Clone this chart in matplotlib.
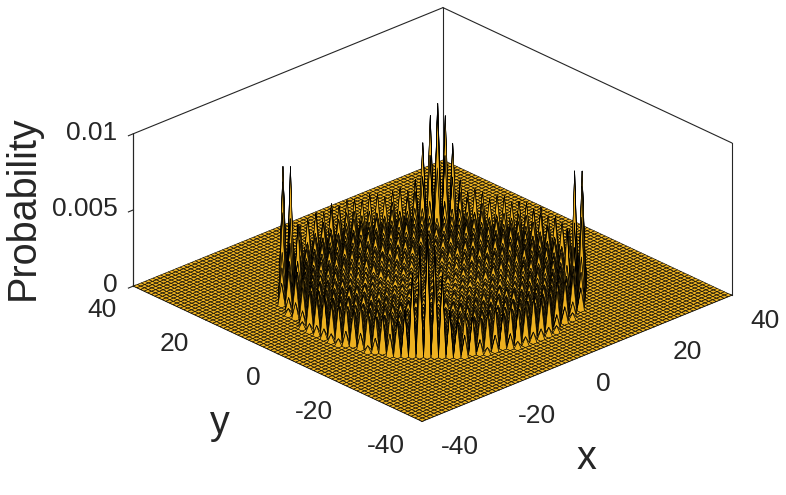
import numpy as np
import matplotlib
matplotlib.use("Agg")
import matplotlib.pyplot as plt
from matplotlib.transforms import ScaledTranslation

plt.rcParams['font.family'] = ['Liberation Sans', 'DejaVu Sans']
plt.rcParams['axes.unicode_minus'] = False

grid = np.arange(-40, 41)
x_ticks = [-40, -20, 0, 20, 40]
y_ticks = [-40, -20, 0, 20, 40]
z_ticks = [0, 0.005, 0.01]
z_tick_labels = ['0', '0.005', '0.01']
x_label = 'x'
y_label = 'y'
z_label = 'Probability'
peak_unit = 1e-4

# Estimated spike heights for one octant (0 <= y <= x); entries run over y = x%2, x%2+2, ...
peak_rows = {
    0: [3], 1: [4], 2: [4, 3], 3: [3, 4], 4: [5, 3, 4], 5: [4, 5, 3],
    6: [5, 4, 5, 4], 7: [4, 5, 4, 5], 8: [6, 4, 6, 4, 5], 9: [5, 6, 4, 6, 4],
    10: [6, 5, 7, 5, 6, 5], 11: [6, 7, 5, 7, 5, 6],
    12: [7, 5, 8, 5, 7, 5, 7], 13: [6, 8, 6, 8, 6, 8, 6],
    14: [8, 6, 9, 6, 8, 6, 9, 6], 15: [7, 9, 7, 9, 7, 9, 7, 9],
    16: [8, 6, 9, 6, 9, 7, 9, 7, 9],
    17: [7, 9, 7, 9, 7, 9, 8, 10, 11],
    18: [9, 7, 10, 8, 10, 8, 11, 9, 12, 42],
    19: [8, 11, 8, 11, 8, 12, 9, 12, 20, 80],
    20: [11, 8, 12, 9, 12, 9, 12, 11, 15, 48, 80],
    21: [9, 12, 10, 12, 10, 13, 11, 15, 34, 72, 0],
    22: [12, 10, 13, 10, 14, 11, 15, 13, 24, 54, 0],
    23: [11, 14, 11, 15, 11, 16, 13, 20, 30, 0],
    24: [14, 11, 15, 12, 16, 12, 19, 26, 22],
    25: [11, 16, 12, 17, 13, 22, 24, 14],
    26: [18, 13, 19, 14, 26, 24, 9],
    27: [24, 18, 25, 22, 10, 4],
    28: [26, 22, 24, 9],
    29: [6, 5, 4],
}

Z = np.zeros((grid.size, grid.size))
for px, row in peak_rows.items():
    for k, h in enumerate(row):
        py = px % 2 + 2 * k
        for a, b in ((px, py), (py, px)):
            for sa in (1, -1):
                for sb in (1, -1):
                    Z[40 + sb * b, 40 + sa * a] = h * peak_unit
X, Y = np.meshgrid(grid, grid)

W, H = 786, 495
fig = plt.figure(figsize=(W / 100, H / 100), dpi=100, facecolor='white')
cx, cy = 422, 270
S = 780
ax = fig.add_axes([(cx - S / 2) / W, (cy - S / 2) / H, S / W, S / H], projection='3d')
ax.set_proj_type('ortho')
ax.view_init(elev=25.9, azim=-133)
ax.set_box_aspect((1, 1, 0.4), zoom=604 / S)
ax.computed_zorder = False
ax.patch.set_alpha(0)

line_c = '#262626'
lo, hi, zt = grid[0], grid[-1], z_ticks[-1]
for xs, ys, zs in (([lo, lo], [hi, hi], [0, zt]),
                   ([hi, hi], [lo, lo], [0, zt]),
                   ([hi, hi], [hi, hi], [0, zt]),
                   ([lo, hi], [hi, hi], [zt, zt]),
                   ([hi, hi], [lo, hi], [zt, zt])):
    ax.plot(xs, ys, zs, color=line_c, lw=0.8, zorder=1)

ax.plot_surface(X, Y, Z, rstride=1, cstride=1, color='#EDB120', edgecolor='black',
                linewidth=0.4, shade=False, antialiased=True, zorder=2)

ax.set_xlim(lo, hi)
ax.set_ylim(lo, hi)
ax.set_zlim(0, zt)
ax.set_xticks(x_ticks)
ax.set_yticks(y_ticks)
ax.set_zticks(z_ticks)
ax.set_zticklabels(z_tick_labels)
ax.grid(False)
for axis, out in ((ax.xaxis, 0.08), (ax.yaxis, 0.08), (ax.zaxis, -0.2)):
    axis.set_pane_color((1, 1, 1, 0))
    axis.pane.set_edgecolor((1, 1, 1, 0))
    axis.line.set_color(line_c)
    axis.line.set_linewidth(0.8)
    axis._axinfo['tick']['inward_factor'] = 0
    axis._axinfo['tick']['outward_factor'] = out
    axis._axinfo['tick']['color'] = line_c
    axis._axinfo['tick']['linewidth'] = {True: 0.8, False: 0.8}
ax.zaxis.set_ticks_position('upper')
ax.tick_params(axis='x', labelsize=19, colors='#262626', pad=6)
ax.tick_params(axis='y', labelsize=19, colors='#262626', pad=8)
ax.tick_params(axis='z', labelsize=19, colors='#262626', pad=-6)
plt.setp(ax.get_xticklabels(), ha='left')
plt.setp(ax.get_yticklabels(), ha='right')
plt.setp(ax.get_zticklabels(), ha='right')


def nudge(axis, dx_px, dy_px):
    # Axis3D resets the label transform on every get_major_ticks call, so wrap that call.
    shift = ScaledTranslation(dx_px / 100, dy_px / 100, fig.dpi_scale_trans)
    original = axis.get_major_ticks

    def shifted(numticks=None):
        ticks = original(numticks)
        for tick in ticks:
            tick.label1.set_transform(ax.transData + shift)
        return ticks

    axis.get_major_ticks = shifted


nudge(ax.xaxis, 5, 0)
nudge(ax.yaxis, 0, 3)
nudge(ax.zaxis, -12, 13)

fig.text(586 / W, 1 - 458 / H, x_label, fontsize=28.5, color='#262626', ha='center', va='center')
fig.text(220 / W, 1 - 423 / H, y_label, fontsize=28.5, color='#262626', ha='center', va='center')
fig.text(23 / W, 1 - 208 / H, z_label, fontsize=28.5, color='#262626', ha='center', va='center', rotation=90)

fig.savefig('out.png', dpi=100)
